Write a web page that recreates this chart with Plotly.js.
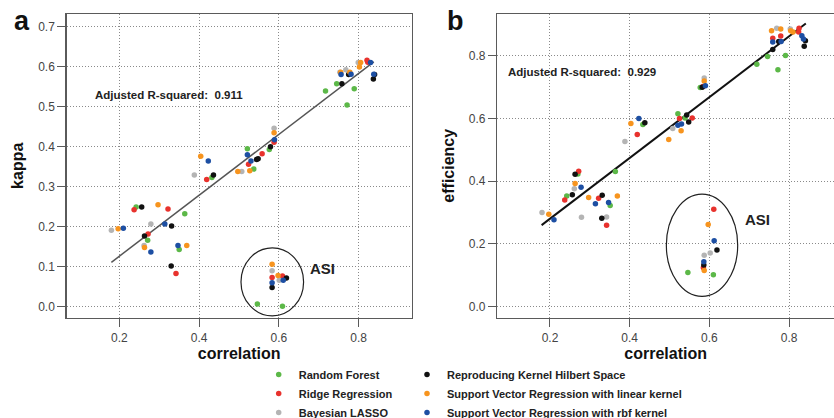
<!DOCTYPE html>
<html>
<head>
<meta charset="utf-8">
<script src="https://cdn.plot.ly/plotly-3.0.1.min.js"></script>
<style>html,body{margin:0;padding:0;background:#fff;overflow:hidden}</style>
</head>
<body>
<div id="chart" style="width:834px;height:418px"></div>
<script>
// ---- data ----
const methods = ["Random Forest","Ridge Regression","Bayesian LASSO",
  "Reproducing Kernel Hilbert Space","Support Vector Regression with linear kernel","Support Vector Regression with rbf kernel"];
const colors = ["#5cb848","#e8322d","#b4b4b4","#111111","#f7941e","#1d4fa3"];
const legendOf = ["legend","legend","legend","legend2","legend2","legend2"];

// panel a: correlation vs kappa
const rfCorrA   = [0.242,0.271,0.364,0.350,0.432,0.521,0.537,0.576,0.546,0.609,0.717,0.745,0.771,0.789];
const rfKappa   = [0.249,0.166,0.232,0.143,0.323,0.395,0.344,0.393,0.007,0.001,0.539,0.557,0.504,0.545];
const rrCorrA   = [0.237,0.272,0.322,0.342,0.419,0.524,0.558,0.588,0.583,0.609,0.821,0.823];
const rrKappa   = [0.242,0.182,0.244,0.083,0.318,0.356,0.382,0.411,0.073,0.077,0.616,0.611];
const blCorrA   = [0.180,0.279,0.262,0.388,0.507,0.588,0.583,0.601,0.753,0.768,0.799];
const blKappa   = [0.191,0.207,0.153,0.329,0.338,0.446,0.090,0.066,0.586,0.592,0.610];
const rkCorrA   = [0.256,0.263,0.331,0.330,0.436,0.544,0.548,0.579,0.619,0.583,0.758,0.775,0.837,0.840];
const rkKappa   = [0.249,0.177,0.202,0.102,0.329,0.368,0.370,0.400,0.072,0.048,0.557,0.580,0.569,0.580];
const slCorrA   = [0.197,0.263,0.297,0.369,0.404,0.497,0.527,0.588,0.583,0.598,0.755,0.778,0.805,0.802];
const slKappa   = [0.195,0.148,0.255,0.153,0.376,0.338,0.340,0.435,0.106,0.078,0.586,0.586,0.610,0.599];
const sbCorrA   = [0.210,0.279,0.314,0.347,0.423,0.521,0.530,0.589,0.611,0.583,0.756,0.781,0.830,0.838];
const sbKappa   = [0.196,0.137,0.207,0.153,0.364,0.380,0.364,0.417,0.066,0.060,0.580,0.581,0.610,0.581];

// panel b: correlation vs efficiency
const rfCorrB   = [0.242,0.270,0.351,0.364,0.433,0.521,0.539,0.577,0.546,0.610,0.719,0.746,0.772,0.791];
const rfEff     = [0.353,0.423,0.323,0.431,0.581,0.615,0.602,0.699,0.109,0.102,0.773,0.798,0.756,0.801];
const rrCorrB   = [0.237,0.272,0.322,0.342,0.419,0.525,0.557,0.584,0.611,0.585,0.759,0.779,0.825,0.824];
const rrEff     = [0.340,0.432,0.346,0.260,0.549,0.600,0.602,0.702,0.311,0.124,0.856,0.863,0.888,0.876];
const blCorrB   = [0.180,0.261,0.279,0.342,0.388,0.508,0.587,0.602,0.587,0.769,0.803];
const blEff     = [0.300,0.376,0.285,0.286,0.527,0.568,0.729,0.171,0.164,0.888,0.886];
const rkCorrB   = [0.256,0.263,0.331,0.330,0.438,0.543,0.548,0.582,0.619,0.586,0.759,0.774,0.841,0.838];
const rkEff     = [0.357,0.422,0.355,0.282,0.587,0.611,0.589,0.700,0.181,0.133,0.820,0.846,0.848,0.831];
const slCorrB   = [0.197,0.263,0.297,0.369,0.403,0.498,0.529,0.587,0.597,0.587,0.756,0.779,0.804,0.810];
const slEff     = [0.295,0.393,0.348,0.353,0.584,0.533,0.561,0.720,0.262,0.115,0.880,0.886,0.880,0.876];
const sbCorrB   = [0.210,0.278,0.314,0.347,0.423,0.521,0.530,0.590,0.612,0.586,0.759,0.780,0.832,0.836];
const sbEff     = [0.277,0.381,0.328,0.332,0.600,0.579,0.583,0.705,0.210,0.143,0.844,0.846,0.864,0.854];

// fitted regression lines (end points)
const fitCorrA = [0.180,0.838], fitKappa = [0.111,0.612];
const fitCorrB = [0.179,0.842], fitEff   = [0.260,0.903];
const r2A = "0.911", r2B = "0.929";

const xTicks = [0.2,0.4,0.6,0.8];
const yTicksA = [0.0,0.1,0.2,0.3,0.4,0.5,0.6,0.7];
const yTicksB = [0.0,0.2,0.4,0.6,0.8];

const corrA = [rfCorrA,rrCorrA,blCorrA,rkCorrA,slCorrA,sbCorrA];
const valA  = [rfKappa,rrKappa,blKappa,rkKappa,slKappa,sbKappa];
const corrB = [rfCorrB,rrCorrB,blCorrB,rkCorrB,slCorrB,sbCorrB];
const valB  = [rfEff,rrEff,blEff,rkEff,slEff,sbEff];

const FONT = "Liberation Sans, Arial, sans-serif";
const traces = [];
traces.push({x:fitCorrA,y:fitKappa,mode:"lines",line:{color:"#555",width:1.5},showlegend:false,hoverinfo:"skip",xaxis:"x",yaxis:"y"});
traces.push({x:fitCorrB,y:fitEff,mode:"lines",line:{color:"#111",width:2},showlegend:false,hoverinfo:"skip",xaxis:"x2",yaxis:"y2"});
methods.forEach((m,i)=>{
  traces.push({x:corrA[i],y:valA[i],mode:"markers",name:m,legendgroup:m,legend:legendOf[i],
    marker:{color:colors[i],size:5.5},xaxis:"x",yaxis:"y"});
  traces.push({x:corrB[i],y:valB[i],mode:"markers",name:m,legendgroup:m,showlegend:false,
    marker:{color:colors[i],size:5.5},xaxis:"x2",yaxis:"y2"});
});

const axCommon = {
  showgrid:true, gridcolor:"#8a8a8a", griddash:"1px,2px", gridwidth:1,
  showline:true, linecolor:"#5a5a5a", linewidth:1.5,
  ticks:"outside", ticklen:8, tickcolor:"#5a5a5a", tickwidth:1,
  zeroline:false, tickfont:{family:FONT,size:12,color:"#444"}, tickformat:".1f", automargin:false
};
const titleFont = {family:FONT,size:16,color:"#111",weight:"bold"};

const layout = {
  width:834, height:418, margin:{l:0,r:0,t:0,b:0,autoexpand:false},
  paper_bgcolor:"#fff", plot_bgcolor:"#fff",
  xaxis:Object.assign({},axCommon,{domain:[0.08,0.4936],range:[0.068,0.933],tickvals:xTicks,mirror:true,
    anchor:"y",ticklabelstandoff:1,title:{text:"correlation",font:titleFont,standoff:2}}),
  yaxis:Object.assign({},axCommon,{domain:[0.2404,0.9665],range:[-0.027,0.7315],tickvals:yTicksA,mirror:true,
    anchor:"x",title:{text:"kappa",font:titleFont,standoff:10}}),
  xaxis2:Object.assign({},axCommon,{domain:[0.5963,1],range:[0.0678,0.9127],tickvals:xTicks,mirror:true,
    anchor:"y2",ticklabelstandoff:1,title:{text:"correlation",font:titleFont,standoff:2}}),
  yaxis2:Object.assign({},axCommon,{domain:[0.2404,0.9665],range:[-0.0346,0.9335],tickvals:yTicksB,mirror:false,
    anchor:"x2",title:{text:"efficiency",font:titleFont,standoff:10}}),
  legend:{x:0.3102,y:0.1388,xanchor:"left",yanchor:"top",orientation:"v",bgcolor:"rgba(0,0,0,0)",
    font:{family:FONT,size:11,color:"#222",weight:"bold"},tracegroupgap:0},
  legend2:{x:0.4880,y:0.1388,xanchor:"left",yanchor:"top",orientation:"v",bgcolor:"rgba(0,0,0,0)",
    font:{family:FONT,size:11,color:"#222",weight:"bold"},tracegroupgap:0},
  shapes:[
    {type:"circle",xref:"x",yref:"y",x0:0.505,x1:0.662,y0:-0.023,y1:0.147,line:{color:"#222",width:1.2}},
    {type:"circle",xref:"x2",yref:"y2",x0:0.492,x1:0.671,y0:0.033,y1:0.359,line:{color:"#222",width:1.2}}
  ],
  annotations:[
    {xref:"x",yref:"y",x:0.325,y:0.528,text:"Adjusted R-squared:  "+r2A,showarrow:false,font:{family:FONT,size:11.5,color:"#222",weight:"bold"}},
    {xref:"x2",yref:"y2",x:0.28,y:0.749,text:"Adjusted R-squared:  "+r2B,showarrow:false,font:{family:FONT,size:11.5,color:"#222",weight:"bold"}},
    {xref:"x",yref:"y",x:0.71,y:0.095,text:"ASI",showarrow:false,font:{family:FONT,size:15,color:"#222",weight:"bold"}},
    {xref:"x2",yref:"y2",x:0.721,y:0.277,text:"ASI",showarrow:false,font:{family:FONT,size:15,color:"#222",weight:"bold"}},
    {xref:"paper",yref:"paper",x:12/834,y:1-4/418,xanchor:"left",yanchor:"top",text:"a",showarrow:false,font:{family:FONT,size:27,color:"#111",weight:"bold"}},
    {xref:"paper",yref:"paper",x:445/834,y:1-4/418,xanchor:"left",yanchor:"top",text:"b",showarrow:false,font:{family:FONT,size:27,color:"#111",weight:"bold"}}
  ]
};
Plotly.newPlot("chart",traces,layout,{displayModeBar:false,staticPlot:true});
</script>
</body>
</html>
